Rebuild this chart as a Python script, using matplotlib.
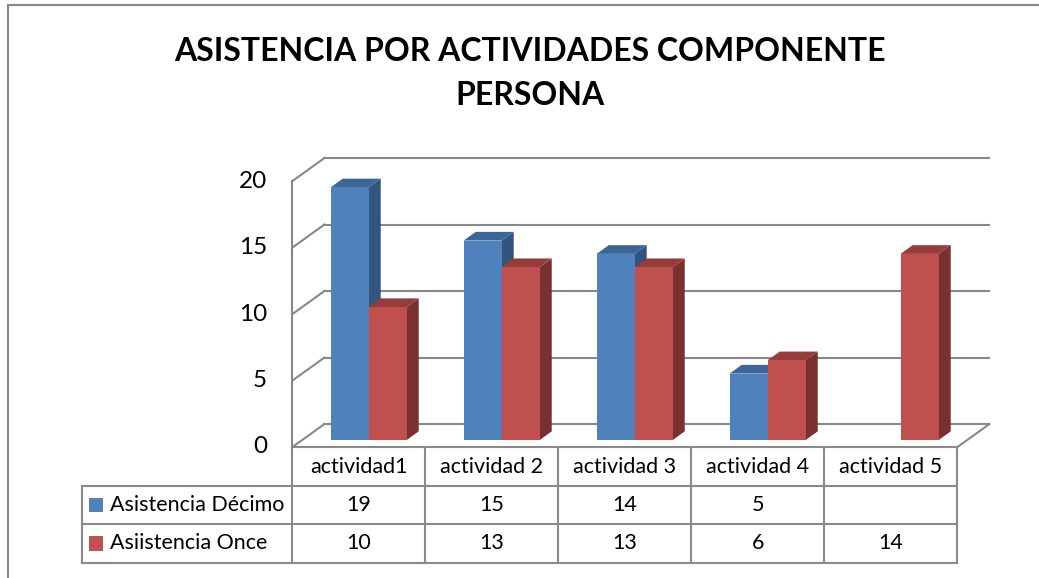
import matplotlib.pyplot as plt
from matplotlib.patches import Polygon, Rectangle
from matplotlib.lines import Line2D

plt.rcParams['font.family'] = ['Lato', 'DejaVu Sans']

# Attendance per activity
activities = ['actividad1', 'actividad 2', 'actividad 3', 'actividad 4', 'actividad 5']
decimo = [19, 15, 14, 5, None]
once = [10, 13, 13, 6, 14]
series_names = ['Asistencia Décimo', 'Asiistencia Once']
y_ticks = [0, 5, 10, 15, 20]

# colours: front face, top face, side face
blue = ('#4F81BD', '#3C6697', '#32557F')
red = ('#C0504D', '#963D3B', '#7A302E')
grid_col = '#888888'

# oblique depth of the floor, in data units (category, value)
DX, DY = 0.2406, 1.729
F0, F1 = 0.30, 0.68     # bar depth range as fraction of floor depth
BW = 0.2857             # bar width in category units


def draw_bar(ax, x0, value, colors):
    fx, fy = F0 * DX, F0 * DY
    bx, by = (F1 - F0) * DX, (F1 - F0) * DY
    left, right = x0 + fx, x0 + fx + BW
    bottom, top = fy, fy + value
    front = Rectangle((left, bottom), BW, value, facecolor=colors[0],
                      edgecolor='none', zorder=3)
    top_face = Polygon([(left, top), (right, top), (right + bx, top + by),
                        (left + bx, top + by)], closed=True,
                       facecolor=colors[1], edgecolor='none', zorder=3)
    side = Polygon([(right, bottom), (right + bx, bottom + by),
                    (right + bx, top + by), (right, top)], closed=True,
                   facecolor=colors[2], edgecolor='none', zorder=3)
    ax.add_patch(side)
    ax.add_patch(top_face)
    ax.add_patch(front)


fig = plt.figure(figsize=(10.39, 5.78), dpi=100)
ax = fig.add_axes([0, 0, 1, 1])
ax.set_xlim(-2.699, 5.113)
ax.set_ylim(-9.85, 33.61)
ax.axis('off')

n = len(activities)
x_left, x_right = -0.5, n - 0.5

# back wall gridlines and left side wall
for v in y_ticks:
    ax.add_line(Line2D([x_left + DX, x_right + DX], [v + DY, v + DY],
                       color=grid_col, lw=1.5, zorder=1))
    ax.add_line(Line2D([x_left, x_left], [v, v], color=grid_col, lw=1.5, zorder=1))
    ax.add_line(Line2D([x_left, x_left + DX], [v, v + DY],
                       color=grid_col, lw=1.5, zorder=1))
    ax.text(x_left - 0.19, v, str(v), ha='right', va='center', fontsize=17.5)
ax.add_line(Line2D([x_left, x_left], [0, y_ticks[-1]], color=grid_col, lw=1.5, zorder=1))
ax.add_line(Line2D([x_right, x_right + DX], [0, DY], color=grid_col, lw=1.5, zorder=1))

# columns
for i in range(n):
    if decimo[i] is not None:
        draw_bar(ax, i - BW, decimo[i], blue)
    if once[i] is not None:
        draw_bar(ax, i, once[i], red)

# data table below the floor
row_edges = [0, -2.93, -5.79, -8.72]
label_left = -2.083
tcol = '#8A8A8A'
ax.add_line(Line2D([x_left, x_right], [row_edges[0]] * 2, color=tcol, lw=1.5, zorder=2))
for r in row_edges[1:]:
    ax.add_line(Line2D([label_left, x_right], [r, r], color=tcol, lw=1.5, zorder=2))
for k in range(n + 1):
    ax.add_line(Line2D([k - 0.5, k - 0.5], [row_edges[0], row_edges[-1]],
                       color=tcol, lw=1.5, zorder=2))
ax.add_line(Line2D([label_left, label_left], [row_edges[1], row_edges[-1]],
                   color=tcol, lw=1.5, zorder=2))

for i, name in enumerate(activities):
    ax.text(i, (row_edges[0] + row_edges[1]) / 2 - 0.05, name, ha='center',
            va='center', fontsize=15.5)

for r, (name, vals, cols) in enumerate(zip(series_names, [decimo, once], [blue, red])):
    yc = (row_edges[r + 1] + row_edges[r + 2]) / 2
    ax.add_patch(Rectangle((label_left + 0.053, yc - 0.53), 0.105, 1.06,
                           facecolor=cols[0], edgecolor='none'))
    ax.text(label_left + 0.21, yc, name, ha='left', va='center', fontsize=15.5)
    for i, v in enumerate(vals):
        if v is not None:
            ax.text(i, yc, str(v), ha='center', va='center', fontsize=15.5)

# chart border (left and top edges)
fig.add_artist(Line2D([8 / 1039, 8 / 1039], [0, 1 - 5 / 578], color=grid_col,
                      lw=1.5, transform=fig.transFigure))
fig.add_artist(Line2D([8 / 1039, 1], [1 - 5 / 578] * 2, color=grid_col,
                      lw=1.5, transform=fig.transFigure))

fig.text(0.51, 0.873, 'ASISTENCIA POR ACTIVIDADES COMPONENTE\nPERSONA',
         ha='center', va='center', fontsize=23, fontweight='bold', linespacing=1.6)

fig.savefig('out.png', dpi=100)
